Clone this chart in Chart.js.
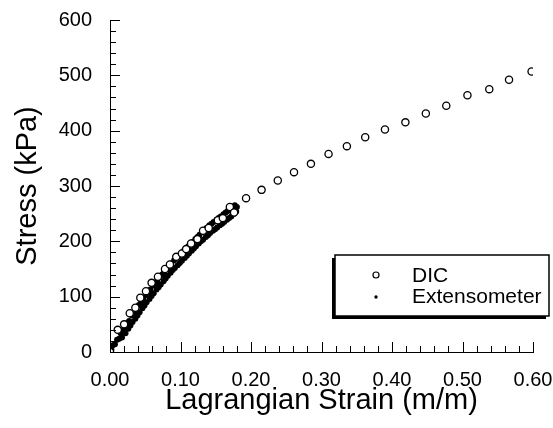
<!DOCTYPE html>
<html>
<head>
<meta charset="utf-8">
<title>Stress vs Lagrangian Strain</title>
<script src="https://cdn.jsdelivr.net/npm/chart.js@4.4.1/dist/chart.umd.min.js"></script>
<style>
  html, body { margin: 0; padding: 0; background: #fff; }
  #wrap { width: 553px; height: 428px; position: relative; }
</style>
</head>
<body>
<div id="wrap"><canvas id="chart"></canvas></div>
<script>
  // values
  const dicStrain = [0, 0.011, 0.020, 0.028, 0.036, 0.043, 0.051, 0.059, 0.068, 0.078, 0.085, 0.094,
    0.102, 0.108, 0.115, 0.124, 0.132, 0.140, 0.153, 0.160, 0.170, 0.176,
    0.193, 0.215, 0.238, 0.261, 0.285, 0.310, 0.336, 0.362, 0.390, 0.419, 0.448, 0.477,
    0.507, 0.538, 0.566, 0.598];
  const dicStress = [0, 40, 50, 70, 80, 98, 110, 125, 136, 150, 158, 172,
    178, 186, 196, 204, 219, 224, 238, 242, 262, 252,
    278, 293, 310, 325, 340, 358, 372, 388, 402, 415, 431, 445,
    464, 475, 492, 507];

  const extStrain = [0.002, 0.004, 0.007, 0.010, 0.013, 0.015, 0.017, 0.019, 0.021, 0.022, 0.024, 0.026,
    0.027, 0.029, 0.031, 0.032, 0.034, 0.036, 0.037, 0.039, 0.041, 0.042, 0.044, 0.046, 0.047, 0.049,
    0.051, 0.052, 0.054, 0.056, 0.057, 0.059, 0.061, 0.062, 0.064, 0.066, 0.067, 0.069, 0.071, 0.072,
    0.074, 0.076, 0.077, 0.079, 0.081, 0.082, 0.084, 0.086, 0.087, 0.089, 0.091, 0.092, 0.094, 0.096,
    0.097, 0.099, 0.101, 0.102, 0.104, 0.106, 0.107, 0.109, 0.111, 0.112, 0.114, 0.116, 0.117, 0.119,
    0.121, 0.122, 0.124, 0.126, 0.127, 0.129, 0.131, 0.132, 0.134, 0.136, 0.137, 0.139, 0.141, 0.142,
    0.144, 0.146, 0.147, 0.149, 0.151, 0.152, 0.154, 0.156, 0.157, 0.159, 0.161, 0.162, 0.164, 0.166,
    0.167, 0.169, 0.171, 0.172, 0.174, 0.176, 0.177, 0.179, 0.180];
  const extStress = [4, 12, 14, 22, 24, 34, 26, 40, 44, 34, 52, 42,
    56, 48, 66, 54, 72, 60, 77, 66, 85, 72, 90, 79, 96, 84,
    103, 90, 108, 96, 113, 101, 120, 106, 124, 113, 129, 117, 136, 122,
    140, 128, 145, 133, 151, 138, 156, 143, 160, 148, 166, 152, 170, 157,
    173, 161, 178, 165, 182, 170, 186, 174, 191, 178, 195, 183, 199, 187,
    204, 191, 208, 196, 212, 200, 217, 203, 221, 208, 224, 211, 229, 215,
    232, 219, 235, 222, 239, 225, 242, 229, 245, 232, 249, 235, 252, 239,
    255, 242, 259, 245, 262, 250, 265, 254, 262];

  const xTickValues = [0, 0.1, 0.2, 0.3, 0.4, 0.5, 0.6];
  const xTickLabels = ["0.00", "0.10", "0.20", "0.30", "0.40", "0.50", "0.60"];
  const yTickValues = [0, 100, 200, 300, 400, 500, 600];
  const yTickLabels = ["0", "100", "200", "300", "400", "500", "600"];
  const seriesNames = ["DIC", "Extensometer"];

(function() {
  "use strict";

  const FONT = "'Liberation Sans', Arial, sans-serif";

  function init() {
    new Chart(document.getElementById("chart"), buildConfig());
  }

  function toPoints(xs, ys) {
    return xs.map((x, i) => ({x: x, y: ys[i]}));
  }

  /**
   * Inward ticks on both axes, major every label and minor in between.
   */
  const tickPlugin = {
    id: "inwardTicks",
    afterDraw(chart) {
      let ctx = chart.ctx;
      let xs = chart.scales.x;
      let ys = chart.scales.y;
      let area = chart.chartArea;
      ctx.save();
      ctx.strokeStyle = "#000";
      ctx.lineWidth = 1;
      ctx.beginPath();
      for (let i = 0; i <= 30; i++) {
        let px = Math.round(xs.getPixelForValue(i * 0.02)) + 0.5;
        let len = (i % 5 == 0) ? 10 : 6;
        ctx.moveTo(px, area.bottom);
        ctx.lineTo(px, area.bottom - len);
      }
      for (let i = 0; i <= 30; i++) {
        let py = Math.round(ys.getPixelForValue(i * 20)) + 0.5;
        let len = (i % 5 == 0) ? 10 : 6;
        ctx.moveTo(area.left, py);
        ctx.lineTo(area.left + len, py);
      }
      ctx.stroke();
      ctx.restore();
    }
  };

  /**
   * Boxed legend with a drop shadow, inside the plot at the lower right.
   */
  const legendPlugin = {
    id: "boxLegend",
    afterDraw(chart) {
      let ctx = chart.ctx;
      let bx = 335, by = 255, bw = 214, bh = 61;
      ctx.save();
      ctx.fillStyle = "#000";
      ctx.fillRect(bx - 3, by + 3, bw, bh);
      ctx.fillStyle = "#fff";
      ctx.fillRect(bx, by, bw, bh);
      ctx.strokeStyle = "#000";
      ctx.lineWidth = 1.5;
      ctx.strokeRect(bx, by, bw, bh);

      ctx.beginPath();
      ctx.arc(376, 275, 3, 0, Math.PI * 2);
      ctx.lineWidth = 1.2;
      ctx.stroke();
      ctx.fillStyle = "#000";
      ctx.beginPath();
      ctx.arc(376, 297, 1.7, 0, Math.PI * 2);
      ctx.fill();

      ctx.font = "21px " + FONT;
      ctx.textBaseline = "middle";
      ctx.textAlign = "left";
      ctx.fillText(seriesNames[0], 412, 276);
      ctx.fillText(seriesNames[1], 412, 297);
      ctx.restore();
    }
  };

  function buildConfig() {
    return {
      type: "scatter",
      data: {
        datasets: [{
          label: seriesNames[0],
          data: toPoints(dicStrain, dicStress),
          pointRadius: 3.6,
          borderWidth: 1.3,
          borderColor: "#000",
          backgroundColor: "#fff"
        }, {
          label: seriesNames[1],
          data: toPoints(extStrain, extStress),
          pointRadius: 3,
          borderWidth: 0,
          backgroundColor: "#000"
        }]
      },
      options: {
        responsive: true,
        maintainAspectRatio: false,
        animation: false,
        layout: {
          padding: {top: 20, right: 20, bottom: 0, left: 0}
        },
        plugins: {
          legend: {display: false},
          tooltip: {enabled: false}
        },
        scales: {
          x: {
            type: "linear",
            min: 0,
            max: 0.6,
            afterFit: (s) => {
              s.height = 76;
              s.paddingLeft = 0;
              s.paddingRight = 0;
            },
            afterBuildTicks: (s) => { s.ticks = xTickValues.map(v => ({value: v})); },
            grid: {display: false, drawTicks: false},
            border: {display: true, color: "#000", width: 1},
            ticks: {
              padding: 16,
              color: "#000",
              maxRotation: 0,
              font: {size: 20, family: FONT},
              callback: (v, i) => xTickLabels[i]
            },
            title: {
              display: true,
              text: "Lagrangian Strain (m/m)",
              color: "#000",
              font: {size: 29, family: FONT},
              padding: {top: 0, bottom: 10}
            }
          },
          y: {
            type: "linear",
            min: 0,
            max: 600,
            afterFit: (s) => {
              s.width = 110;
              s.paddingTop = 0;
              s.paddingBottom = 0;
            },
            afterBuildTicks: (s) => { s.ticks = yTickValues.map(v => ({value: v})); },
            grid: {display: false, drawTicks: false},
            border: {display: true, color: "#000", width: 1},
            ticks: {
              padding: 18,
              color: "#000",
              font: {size: 20, family: FONT},
              callback: (v, i) => yTickLabels[i]
            },
            title: {
              display: true,
              text: "Stress (kPa)",
              color: "#000",
              font: {size: 29, family: FONT},
              padding: {top: 11, bottom: 0}
            }
          }
        }
      },
      plugins: [tickPlugin, legendPlugin]
    };
  }

  init();
})();
</script>
</body>
</html>
